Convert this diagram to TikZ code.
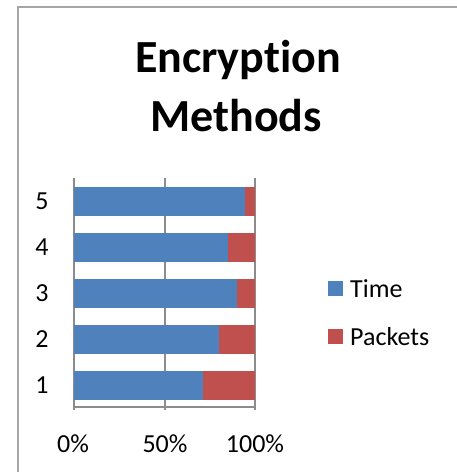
\documentclass[tikz,border=0pt]{standalone}
\usepackage{fontspec}
\setmainfont{Carlito}[Ligatures=NoCommon]
\definecolor{barblue}{HTML}{4F81BD}
\definecolor{barred}{HTML}{C0504D}
\definecolor{axisgrey}{HTML}{8C8C8C}
\definecolor{framegrey}{HTML}{A6A6A6}
\begin{document}
\begin{tikzpicture}[x=1pt,y=-1pt,
  lbl/.style={inner sep=0pt,font=\fontsize{26}{30}\selectfont},
  ttl/.style={inner sep=0pt,anchor=base,font=\fontsize{46}{55}\selectfont\bfseries},
  gridln/.style={draw=axisgrey,line width=1.1pt},
  legsq/.style={minimum size=15pt,inner sep=0pt}]
\useasboundingbox (0,0) rectangle (456,472);
\fill[white] (0,0) rectangle (456,472);
% frame
\draw[framegrey,line width=1.5pt] (18,480) -- (18,7) -- (470,7);
% title
\node[ttl] (t1) at (238,72.7) {Encryption};
\node[ttl] (t2) at (236,131.7) {Methods};
% gridlines and axes
\draw[gridln] (165,178) -- (165,410);
\draw[gridln] (255,178) -- (255,410);
\draw[gridln] (74,178) -- (74,410);
\draw[gridln] (74,407) -- (255,407);
% bars (category centres, bar height 29)
\foreach \c/\v in {201/0.945,247/0.851,293.5/0.90,339.5/0.80,385.5/0.713}{
  \fill[barred] (74,\c-14.5) rectangle (255,\c+14.5);
  \fill[barblue] (74,\c-14.5) rectangle ({74+181*\v},\c+14.5);
}
% category labels
\node[lbl] (c5) at (42,201) {5};
\node[lbl] (c4) at (42,247) {4};
\node[lbl] (c3) at (42,293.5) {3};
\node[lbl] (c2) at (42,339.5) {2};
\node[lbl] (c1) at (42,385.5) {1};
% value labels
\node[lbl] (p0) at (73,443.5) {0\%};
\node[lbl] (p50) at (165,443.5) {50\%};
\node[lbl] (p100) at (255,443.5) {100\%};
% legend
\node[legsq,fill=barblue] (ltime) at (335.5,288.5) {};
\node[legsq,fill=barred] (lpack) at (335.5,336.5) {};
\node[lbl,anchor=west] (ttime) at (350,288.5) {Time};
\node[lbl,anchor=west] (tpack) at (350,336.5) {Packets};
\end{tikzpicture}
\end{document}
